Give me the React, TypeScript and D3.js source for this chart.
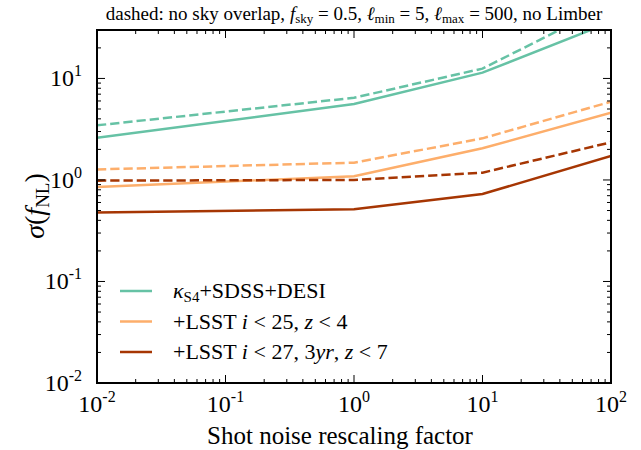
import React from "react";
import * as d3 from "d3";

const xPoints = [0.01, 1, 10, 100];
const greenSolid = [2.6, 5.6, 11.4, 36];
const greenDashed = [3.45, 6.45, 12.5, 54];
const orangeSolid = [0.85, 1.09, 2.05, 4.6];
const orangeDashed = [1.27, 1.48, 2.57, 5.9];
const redSolid = [0.477, 0.515, 0.728, 1.72];
const redDashed = [0.985, 1.0, 1.18, 2.35];
const xTickExps = [-2, -1, 0, 1, 2];
const yTickExps = [-2, -1, 0, 1];
const colors = { green: "#66c2a5", orange: "#fdae6b", red: "#a63603" };

const W = 641, H = 450;
const M = { left: 97, right: 611, top: 30, bottom: 383 };
const FONT = "'Liberation Serif', 'Times New Roman', Times, serif";

export default function App() {
  const x = d3.scaleLog().domain([0.01, 100]).range([M.left, M.right]);
  const y = d3.scaleLog().domain([0.01, 30]).range([M.bottom, M.top]);
  const line = d3
    .line<[number, number]>()
    .x((d) => x(d[0]))
    .y((d) => y(d[1]));
  const mk = (vals: number[]) => line(xPoints.map((v, i) => [v, vals[i]] as [number, number])) || "";

  const series = [
    { vals: greenDashed, color: colors.green, dash: "9.25,4" },
    { vals: greenSolid, color: colors.green, dash: null },
    { vals: orangeDashed, color: colors.orange, dash: "9.25,4" },
    { vals: orangeSolid, color: colors.orange, dash: null },
    { vals: redDashed, color: colors.red, dash: "9.25,4" },
    { vals: redSolid, color: colors.red, dash: null },
  ];

  const xMinor: number[] = [];
  for (let e = -2; e < 2; e++) for (let k = 2; k <= 9; k++) xMinor.push(k * Math.pow(10, e));
  const yMinor: number[] = [];
  for (let e = -2; e < 2; e++)
    for (let k = 2; k <= 9; k++) {
      const v = k * Math.pow(10, e);
      if (v <= 30) yMinor.push(v);
    }

  const tickFont = 24;
  const supFont = 16;
  const ts = { fontFamily: FONT };

  const legendItems = [
    { color: colors.green, key: "a" },
    { color: colors.orange, key: "b" },
    { color: colors.red, key: "c" },
  ];
  const legendY = [291, 321.5, 352];

  return (
    <svg
      width={W}
      height={H}
      style={{ position: "absolute", left: 0, top: 0, background: "#fff", fontFamily: FONT }}
    >
      <rect x={0} y={0} width={W} height={H} fill="#fff" />
      <defs>
        <clipPath id="plotclip">
          <rect x={M.left} y={M.top} width={M.right - M.left} height={M.bottom - M.top} />
        </clipPath>
      </defs>

      {/* title */}
      <text x={354} y={20} fontSize={19} textAnchor="middle" fill="#000" style={ts}>
        <tspan>dashed: no sky overlap, </tspan>
        <tspan fontStyle="italic">f</tspan>
        <tspan fontSize={13} dy={3}>sky</tspan>
        <tspan dy={-3}> = 0.5, </tspan>
        <tspan fontStyle="italic">ℓ</tspan>
        <tspan fontSize={13} dy={3}>min</tspan>
        <tspan dy={-3}> = 5, </tspan>
        <tspan fontStyle="italic">ℓ</tspan>
        <tspan fontSize={13} dy={3}>max</tspan>
        <tspan dy={-3}> = 500, no Limber</tspan>
      </text>

      {/* data lines */}
      <g clipPath="url(#plotclip)">
        {series.map((s, i) => (
          <path
            key={i}
            d={mk(s.vals)}
            fill="none"
            stroke={s.color}
            strokeWidth={2.5}
            strokeDasharray={s.dash || undefined}
          />
        ))}
      </g>

      {/* ticks */}
      <g stroke="#000" strokeWidth={1}>
        {xTickExps.map((e) => {
          const px = x(Math.pow(10, e));
          return (
            <g key={"xt" + e}>
              <line x1={px} x2={px} y1={M.bottom} y2={M.bottom - 8} />
              <line x1={px} x2={px} y1={M.top} y2={M.top + 8} />
            </g>
          );
        })}
        {xMinor.map((v, i) => {
          const px = x(v);
          return (
            <g key={"xm" + i}>
              <line x1={px} x2={px} y1={M.bottom} y2={M.bottom - 4} />
              <line x1={px} x2={px} y1={M.top} y2={M.top + 4} />
            </g>
          );
        })}
        {yTickExps.map((e) => {
          const py = y(Math.pow(10, e));
          return (
            <g key={"yt" + e}>
              <line x1={M.left} x2={M.left + 8} y1={py} y2={py} />
              <line x1={M.right} x2={M.right - 8} y1={py} y2={py} />
            </g>
          );
        })}
        {yMinor.map((v, i) => {
          const py = y(v);
          return (
            <g key={"ym" + i}>
              <line x1={M.left} x2={M.left + 4} y1={py} y2={py} />
              <line x1={M.right} x2={M.right - 4} y1={py} y2={py} />
            </g>
          );
        })}
      </g>

      {/* frame */}
      <rect
        x={M.left}
        y={M.top}
        width={M.right - M.left}
        height={M.bottom - M.top}
        fill="none"
        stroke="#000"
        strokeWidth={2}
      />

      {/* x tick labels */}
      {xTickExps.map((e) => (
        <text key={"xl" + e} x={x(Math.pow(10, e))} y={M.bottom + 29} fontSize={tickFont} textAnchor="middle" style={ts}>
          <tspan>10</tspan>
          <tspan fontSize={supFont} dy={-10}>{e < 0 ? "-" + Math.abs(e) : String(e)}</tspan>
        </text>
      ))}

      {/* y tick labels */}
      {yTickExps.map((e) => (
        <text key={"yl" + e} x={M.left - 15} y={y(Math.pow(10, e)) + 8} fontSize={tickFont} textAnchor="end" style={ts}>
          <tspan>10</tspan>
          <tspan fontSize={supFont} dy={-10}>{e < 0 ? "-" + Math.abs(e) : String(e)}</tspan>
        </text>
      ))}

      {/* axis labels */}
      <text x={340} y={444} fontSize={25} textAnchor="middle" style={ts}>
        Shot noise rescaling factor
      </text>
      <text transform="translate(44,206) rotate(-90)" fontSize={28} textAnchor="middle" style={ts}>
        <tspan fontStyle="italic">σ</tspan>
        <tspan>(</tspan>
        <tspan fontStyle="italic">f</tspan>
        <tspan fontSize={19} dy={5}>NL</tspan>
        <tspan dy={-5}>)</tspan>
      </text>

      {/* legend */}
      {legendItems.map((it, i) => (
        <line
          key={"lg" + it.key}
          x1={120}
          x2={152}
          y1={legendY[i]}
          y2={legendY[i]}
          stroke={it.color}
          strokeWidth={2.5}
        />
      ))}
      <text x={173} y={legendY[0] + 7} fontSize={22} style={ts}>
        <tspan fontStyle="italic">κ</tspan>
        <tspan fontSize={15} dy={4}>S4</tspan>
        <tspan dy={-4}>+SDSS+DESI</tspan>
      </text>
      <text x={173} y={legendY[1] + 7} fontSize={22} style={ts}>
        <tspan>+LSST </tspan>
        <tspan fontStyle="italic">i</tspan>
        <tspan> &lt; 25, </tspan>
        <tspan fontStyle="italic">z</tspan>
        <tspan> &lt; 4</tspan>
      </text>
      <text x={173} y={legendY[2] + 7} fontSize={22} style={ts}>
        <tspan>+LSST </tspan>
        <tspan fontStyle="italic">i</tspan>
        <tspan> &lt; 27, 3</tspan>
        <tspan fontStyle="italic">yr</tspan>
        <tspan>, </tspan>
        <tspan fontStyle="italic">z</tspan>
        <tspan> &lt; 7</tspan>
      </text>
    </svg>
  );
}
